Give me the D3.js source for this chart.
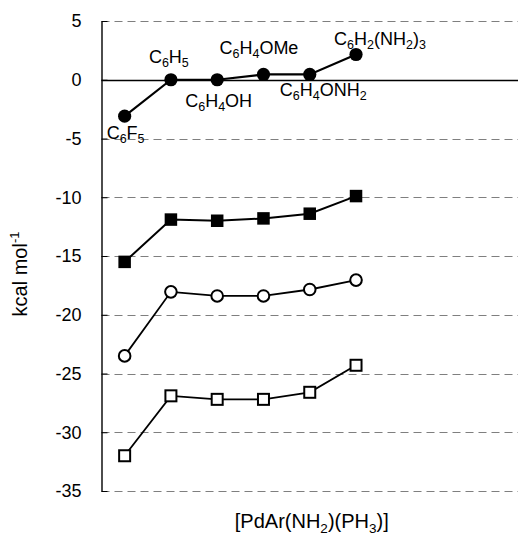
<!DOCTYPE html>
<html><head><meta charset="utf-8">
<script src="https://cdn.jsdelivr.net/npm/d3@7/dist/d3.min.js"></script>
<style>
html,body{margin:0;padding:0;background:#fff;}
svg{display:block;font-family:"Liberation Sans",Arial,Helvetica,sans-serif;}
</style></head>
<body>
<svg id="chart" width="518" height="538"></svg>
<script>
// Data
const categories = ["C6F5", "C6H5", "C6H4OH", "C6H4OMe", "C6H4ONH2", "C6H2(NH2)3"];
const filledCircle = [-3.1, 0.0, 0.0, 0.45, 0.45, 2.15];
const filledSquare = [-15.5, -11.9, -12.0, -11.8, -11.4, -9.9];
const openCircle = [-23.5, -18.05, -18.4, -18.4, -17.85, -17.05];
const openSquare = [-32.0, -26.9, -27.2, -27.2, -26.6, -24.3];
const yTicks = [5, 0, -5, -10, -15, -20, -25, -30, -35];
const slotCount = 9; // category slots on the axis (only first six used)

// label parts: [text, isSub]
const labelParts = [
  [["C",0],["6",1],["F",0],["5",1]],
  [["C",0],["6",1],["H",0],["5",1]],
  [["C",0],["6",1],["H",0],["4",1],["OH",0]],
  [["C",0],["6",1],["H",0],["4",1],["OMe",0]],
  [["C",0],["6",1],["H",0],["4",1],["ONH",0],["2",1]],
  [["C",0],["6",1],["H",0],["2",1],["(NH",0],["2",1],[")",0],["3",1]]
];
// label anchor offsets relative to the point (dx, dy of baseline)
const labelOffsets = [[-18, 23], [-22, -17], [-32, 27], [-44, -20], [-30, 22], [-22, -9]];

const svg = d3.select("#chart");
const mLeft = 101.5, mRight = 518, mTop = 21, mBottom = 491;

const x = d3.scaleLinear().domain([0, slotCount]).range([mLeft, mRight]);
const y = d3.scaleLinear().domain([5, -35]).range([mTop, mBottom]);

// gridlines
svg.append("g").selectAll("line")
  .data(yTicks.filter(d => d !== 0))
  .join("line")
  .attr("x1", mLeft).attr("x2", mRight)
  .attr("y1", d => Math.round(y(d)) + 0.5).attr("y2", d => Math.round(y(d)) + 0.5)
  .attr("stroke", "#7f7f7f").attr("stroke-width", 1.2)
  .attr("stroke-dasharray", "8,5");

// zero line
svg.append("line")
  .attr("x1", mLeft).attr("x2", mRight)
  .attr("y1", Math.round(y(0)) + 0.5).attr("y2", Math.round(y(0)) + 0.5)
  .attr("stroke", "#000").attr("stroke-width", 1.3);

// y axis
const yAxis = d3.axisLeft(y).tickValues(yTicks).tickSizeInner(-6).tickSizeOuter(0).tickPadding(20)
  .tickFormat(d3.format("d"));
const ga = svg.append("g").attr("transform", `translate(${mLeft},0)`).call(yAxis);
ga.select(".domain").attr("stroke", "#000").attr("stroke-width", 1.4);
ga.selectAll(".tick line").attr("stroke", "#000");
ga.selectAll(".tick text").attr("font-size", 18).attr("fill", "#000")
  .attr("font-family", "'Liberation Sans',Arial,sans-serif")
  .text(d => d < 0 ? "-" + Math.abs(d) : d);

// series
const seriesList = [
  {data: openSquare, shape: "square", fill: "#fff", lw: 1.8},
  {data: openCircle, shape: "circle", fill: "#fff", lw: 1.8},
  {data: filledSquare, shape: "square", fill: "#000", lw: 2},
  {data: filledCircle, shape: "circle", fill: "#000", lw: 2.2}
];
const line = d3.line().x((d, i) => x(i + 0.5)).y(d => y(d));
seriesList.forEach(s => {
  svg.append("path").datum(s.data).attr("d", line)
    .attr("fill", "none").attr("stroke", "#000").attr("stroke-width", s.lw);
  const g = svg.append("g");
  if (s.shape === "circle") {
    g.selectAll("circle").data(s.data).join("circle")
      .attr("cx", (d, i) => x(i + 0.5)).attr("cy", d => y(d))
      .attr("r", s.fill === "#000" ? 6.6 : 5.8)
      .attr("fill", s.fill).attr("stroke", "#000").attr("stroke-width", s.fill === "#000" ? 0 : 2);
  } else {
    const sz = s.fill === "#000" ? 12.5 : 11;
    g.selectAll("rect").data(s.data).join("rect")
      .attr("x", (d, i) => x(i + 0.5) - sz / 2).attr("y", d => y(d) - sz / 2)
      .attr("width", sz).attr("height", sz)
      .attr("fill", s.fill).attr("stroke", "#000").attr("stroke-width", s.fill === "#000" ? 0 : 2);
  }
});

// data labels for the top series
const lg = svg.append("g");
categories.forEach((c, i) => {
  const t = lg.append("text")
    .attr("x", x(i + 0.5) + labelOffsets[i][0])
    .attr("y", y(filledCircle[i]) + labelOffsets[i][1])
    .attr("font-size", 18).attr("fill", "#000");
  let shifted = false;
  labelParts[i].forEach(([txt, sub]) => {
    const ts = t.append("tspan").text(txt);
    if (sub && !shifted) { ts.attr("dy", 4).attr("font-size", 12.5); shifted = true; }
    else if (sub) { ts.attr("font-size", 12.5); }
    else if (!sub && shifted) { ts.attr("dy", -4); shifted = false; }
  });
});

// axis titles
const yt = svg.append("text")
  .attr("transform", `translate(27,${(mTop + mBottom) / 2 + 18}) rotate(-90)`)
  .attr("text-anchor", "middle").attr("font-size", 20).attr("fill", "#000");
yt.append("tspan").text("kcal mol");
yt.append("tspan").text("-1").attr("font-size", 13).attr("dy", -8);

const xt = svg.append("text")
  .attr("x", (mLeft + mRight) / 2 + 2).attr("y", 528)
  .attr("text-anchor", "middle").attr("font-size", 20).attr("fill", "#000");
[["[PdAr(NH",0],["2",1],[")(PH",0],["3",1],[")]",0]].forEach(([txt, sub]) => {
  const ts = xt.append("tspan").text(txt);
  if (sub) ts.attr("dy", 5).attr("font-size", 13.5); else if (txt !== "[PdAr(NH") ts.attr("dy", -5);
});
</script>
</body></html>
